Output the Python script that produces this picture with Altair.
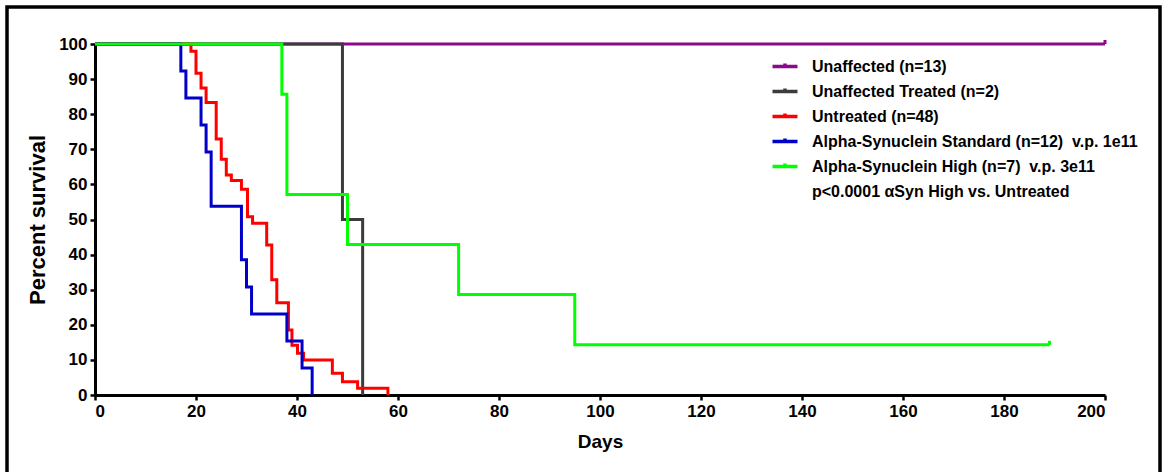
import altair as alt
import pandas as pd

# ---- data ----
series_names = [
    "Unaffected (n=13)",
    "Unaffected Treated (n=2)",
    "Untreated (n=48)",
    "Alpha-Synuclein Standard (n=12)\u00a0\u00a0v.p. 1e11",
    "Alpha-Synuclein High (n=7)\u00a0\u00a0v.p. 3e11",
]
p_note = "p<0.0001 \u03b1Syn High vs. Untreated"
series_colors = ["#8B0A8B", "#3C3C3C", "#FF0000", "#0000C8", "#00FF00"]

unaffected_days = [0, 200]
unaffected_surv = [100, 100]

treated_days = [0, 49, 53]
treated_surv = [100, 50, 0]

untreated_days = [0, 19, 20, 21, 22, 24, 25, 26, 27, 29, 30.2, 31.2, 34, 35, 36,
                  38.3, 39, 40.1, 41.3, 47, 49, 52, 58]
untreated_surv = [100, 97.9, 91.7, 87.5, 83.3, 72.9, 67.2, 62.7, 61.1, 58.6, 50.8,
                  48.9, 42.7, 32.8, 26.3, 18.5, 14.2, 11.9, 10.0, 6.2, 3.8, 1.9, 0]

standard_days = [0, 17, 18, 21, 22, 23, 29, 30, 31, 38, 41, 43]
standard_surv = [100, 92.3, 84.6, 76.9, 69.2, 53.8, 38.5, 30.8, 23.1, 15.4, 7.7, 0]

high_days = [0, 37, 38, 50, 72, 95, 189]
high_surv = [100, 85.7, 57.1, 42.9, 28.6, 14.3, 14.3]

censor_series = [0, 4]
censor_days = [200, 189]
censor_surv = [100, 14.3]

x_ticks = list(range(0, 201, 20))
y_ticks = list(range(0, 101, 10))

# ---- build tables ----
all_days = [unaffected_days, treated_days, untreated_days, standard_days, high_days]
all_surv = [unaffected_surv, treated_surv, untreated_surv, standard_surv, high_surv]
rows = []
for i, (d, s) in enumerate(zip(all_days, all_surv)):
    for dd, ss in zip(d, s):
        rows.append({"series": series_names[i], "idx": i, "days": dd, "surv": ss})
curves = pd.DataFrame(rows)
censor = pd.DataFrame({
    "series": [series_names[i] for i in censor_series],
    "days": censor_days,
    "surv": censor_surv,
})

FONT = "Liberation Sans"

color_scale = alt.Scale(domain=series_names + [p_note],
                        range=series_colors + ["transparent"])
legend = alt.Legend(
    orient="none", legendX=678, legendY=10.5, title=None,
    symbolType="M-1.25,0H1.25M0,0V-0.3", symbolSize=400, symbolStrokeWidth=3.5,
    labelFont=FONT, labelFontSize=16, labelFontWeight="bold", labelColor="black",
    labelOffset=15, rowPadding=5, labelLimit=800, padding=0,
)

x_enc = alt.X("days:Q", scale=alt.Scale(domain=[0, 200], nice=False),
              axis=alt.Axis(values=x_ticks, title="Days", titleFontSize=19,
                            titlePadding=13))
y_enc = alt.Y("surv:Q", scale=alt.Scale(domain=[0, 100], nice=False),
              axis=alt.Axis(values=y_ticks, title="Percent survival",
                            titleFontSize=22, titlePadding=9))
c_enc = alt.Color("series:N", scale=color_scale, legend=legend)

layers = []
for i in range(5):
    layers.append(
        alt.Chart(curves).transform_filter(alt.datum.idx == i)
        .mark_line(interpolate="step-after", strokeWidth=3)
        .encode(x=x_enc, y=y_enc, color=c_enc)
    )

ticks = alt.Chart(censor).mark_point(shape="M0,0V-1", size=64, strokeWidth=3,
                                     filled=False, opacity=1).encode(
    x=x_enc, y=y_enc, color=c_enc)

frame = alt.Chart(pd.DataFrame({"a": [0]})).mark_rect(
    fill="white", fillOpacity=0, stroke="black", strokeWidth=3.5).encode(
    x=alt.value(-88), x2=alt.value(1065), y=alt.value(-37), y2=alt.value(520))

chart = alt.layer(frame, *layers, ticks).properties(
    width=1010, height=351,
    padding={"left": 95, "top": 44, "right": 57, "bottom": 77},
    autosize=alt.AutoSizeParams(type="none"),
    background="white",
).configure_view(stroke=None).configure_axis(
    grid=False, domainColor="black", domainWidth=3, tickColor="black",
    tickWidth=2.5, tickSize=5, labelColor="black", labelFont=FONT,
    labelFontSize=17, labelFontWeight="bold", labelPadding=3,
    titleFont=FONT, titleFontWeight="bold", titleColor="black",
)

chart.save("out.html", embed_options={"renderer": "svg", "actions": False})
